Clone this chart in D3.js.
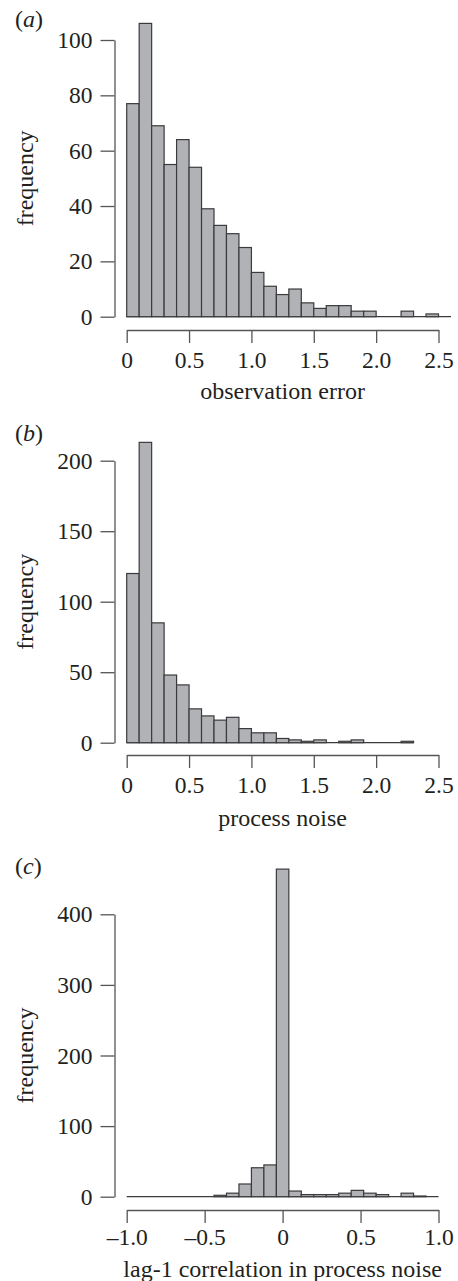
<!DOCTYPE html>
<html><head><meta charset="utf-8">
<script src="https://cdn.jsdelivr.net/npm/d3@7"></script>
<style>
html,body{margin:0;padding:0;background:#fff;}
text{font-family:"Liberation Serif","Times New Roman",serif;fill:#231f20;}
</style></head>
<body><svg id="c" width="458" height="1281"></svg>
<script>
// ---- data ----
const obsStart = 0, obsWidth = 0.1;
const obsCounts = [77,106,69,55,64,54,39,33,30,25,16,11,8,10,5,3,4,4,2,2,0,0,2,0,1,0];
const obsXTicks = [0,0.5,1.0,1.5,2.0,2.5];
const obsXLabels = ["0","0.5","1.0","1.5","2.0","2.5"];
const obsYTicks = [0,20,40,60,80,100];

const procStart = 0, procWidth = 0.1;
const procCounts = [120,213,85,48,41,24,19,16,18,10,7,7,3,2,1,2,0,1,2,0,0,0,1];
const procXTicks = [0,0.5,1.0,1.5,2.0,2.5];
const procXLabels = ["0","0.5","1.0","1.5","2.0","2.5"];
const procYTicks = [0,50,100,150,200];

const lagStart = -1, lagWidth = 0.08;
const lagCounts = [0,0,0,0,0,0,0,2,5,18,41,45,464,8,3,3,3,5,9,5,3,0,5,1,0];
const lagXTicks = [-1.0,-0.5,0,0.5,1.0];
const lagXLabels = ["\u20131.0","\u20130.5","0","0.5","1.0"];
const lagYTicks = [0,100,200,300,400];

const panels = [
  {tag:"a", title:"observation error", start:obsStart, width:obsWidth, counts:obsCounts,
   xt:obsXTicks, xl:obsXLabels, yt:obsYTicks, xd:[0,2.5], y0:316.7, yTop:40, axY:330, lblY:368, ttlY:399, tagY:26.5},
  {tag:"b", title:"process noise", start:procStart, width:procWidth, counts:procCounts,
   xt:procXTicks, xl:procXLabels, yt:procYTicks, xd:[0,2.5], y0:742.7, yTop:460.7, axY:755, lblY:793, ttlY:826, tagY:440.5},
  {tag:"c", title:"lag-1 correlation in process noise", start:lagStart, width:lagWidth, counts:lagCounts,
   xt:lagXTicks, xl:lagXLabels, yt:lagYTicks, xd:[-1,1], y0:1196.7, yTop:914.3, axY:1210, lblY:1245, ttlY:1276.5, tagY:873.5}
];

const svg = d3.select("#c");
const axisX = 114.5, xL = 126.7, xR = 438.5;
const FS = 23.5, FT = 24;
const SERIF = '"Liberation Serif","Times New Roman",serif';

panels.forEach(p => {
  const g = svg.append("g");
  const x = d3.scaleLinear().domain(p.xd).range([xL, xR]);
  const yMax = p.yt[p.yt.length-1];
  const y = d3.scaleLinear().domain([0, yMax]).range([p.y0, p.yTop]);

  const bins = p.counts.map((c,i)=>({x0:p.start+i*p.width, x1:p.start+(i+1)*p.width, c}));
  // baseline under all bins (zero-count bins)
  g.append("line")
    .attr("x1", x(bins[0].x0)).attr("x2", x(bins[bins.length-1].x1))
    .attr("y1", y(0)).attr("y2", y(0))
    .attr("stroke","#3b3b3d").attr("stroke-width",1.2);
  // bars
  g.selectAll("rect.bar").data(bins.filter(d=>d.c>0)).enter().append("rect")
    .attr("class","bar")
    .attr("x", d=>x(d.x0)).attr("width", d=>x(d.x1)-x(d.x0))
    .attr("y", d=>y(d.c)).attr("height", d=>y(0)-y(d.c))
    .attr("fill","#b1b2b5").attr("stroke","#3b3b3d").attr("stroke-width",1.2);

  // y axis
  const ya = g.append("g").attr("transform",`translate(${axisX},0)`)
    .call(d3.axisLeft(y).tickValues(p.yt).tickSize(14).tickSizeOuter(0).tickPadding(8).tickFormat(d3.format("d")));
  ya.attr("font-family", SERIF);
  ya.select(".domain").attr("stroke","#555").attr("stroke-width",1.3);
  ya.selectAll(".tick line").attr("stroke","#555").attr("stroke-width",1.3);
  ya.selectAll(".tick text").attr("font-size",FS).attr("font-family",SERIF).attr("fill","#231f20");

  // x axis
  const xa = g.append("g").attr("transform",`translate(0,${p.axY})`)
    .call(d3.axisBottom(x).tickValues(p.xt).tickSize(13).tickSizeOuter(0)
      .tickFormat((d,i)=>p.xl[i]));
  xa.attr("font-family", SERIF);
  xa.select(".domain").attr("stroke","#555").attr("stroke-width",1.3);
  xa.selectAll(".tick line").attr("stroke","#555").attr("stroke-width",1.3);
  xa.selectAll(".tick text").attr("font-size",FS).attr("font-family",SERIF)
    .attr("fill","#231f20").attr("dy",null).attr("y", p.lblY - p.axY);

  // titles
  g.append("text").attr("x",(xL+xR)/2).attr("y",p.ttlY).attr("text-anchor","middle")
    .attr("font-size",FT).text(p.title);
  g.append("text").attr("transform",`translate(33,${(p.y0+p.yTop)/2}) rotate(-90)`)
    .attr("text-anchor","middle").attr("font-size",FT).text("frequency");
  const t = g.append("text").attr("x",15).attr("y",p.tagY).attr("font-size",FT);
  t.append("tspan").text("(");
  t.append("tspan").attr("font-style","italic").text(p.tag);
  t.append("tspan").text(")");
});
</script></body></html>
